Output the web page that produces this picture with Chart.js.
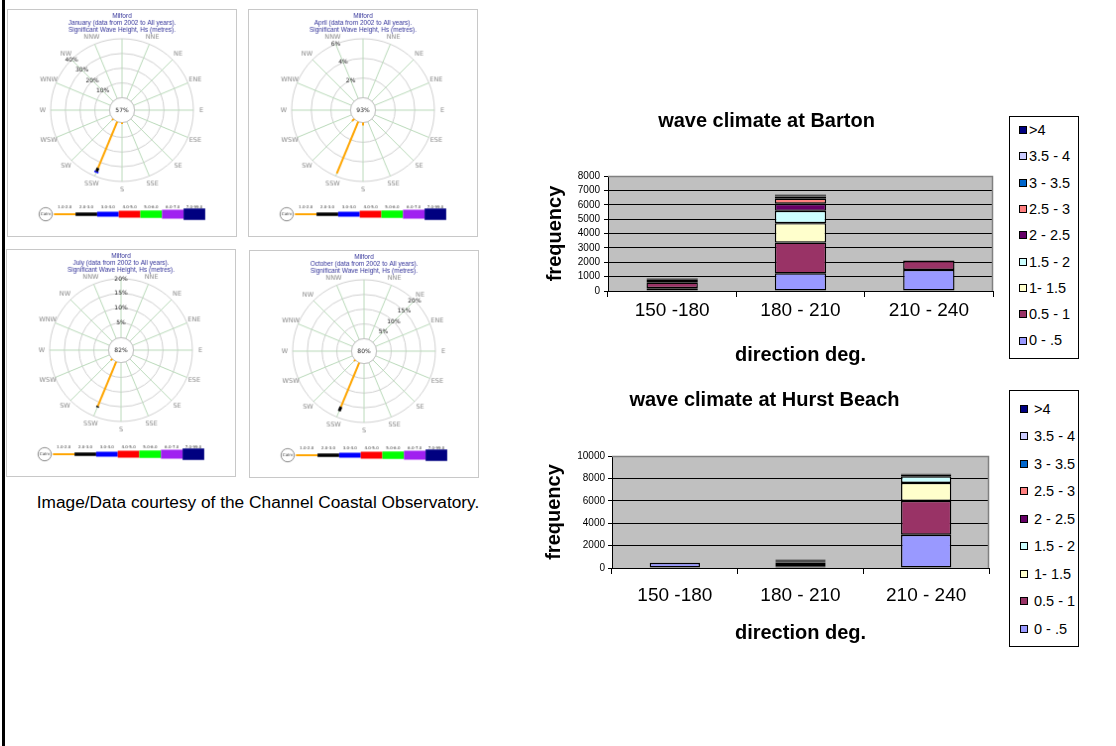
<!DOCTYPE html>
<html><head><meta charset="utf-8">
<script src="https://cdn.jsdelivr.net/npm/chart.js@4.4.1/dist/chart.umd.min.js"></script>
<style>
html,body{margin:0;padding:0;background:#fff;width:1116px;height:746px;overflow:hidden;position:relative;font-family:"Liberation Sans",Arial,sans-serif;}
canvas{position:absolute;}
.rose{border:1px solid #c8c8c8;}
#leftline{position:absolute;left:2px;top:0;width:3px;height:746px;background:#000;}
#caption{position:absolute;left:0;width:516px;top:491px;line-height:22px;text-align:center;font-size:17.3px;color:#000;}
.legend{position:absolute;border:1px solid #000;background:#fff;box-sizing:border-box;color:#000;}
.legend .it{position:absolute;white-space:nowrap;height:20px;line-height:20px;font-size:14.5px;}
.legend .sw{display:inline-block;width:6px;height:6px;border:1px solid #000;vertical-align:middle;margin-top:-2px;}
</style></head><body>
<div id="leftline"></div>
<canvas id="rose1" class="rose" width="230" height="228" style="left:7px;top:9px"></canvas>
<canvas id="rose2" class="rose" width="230" height="228" style="left:248px;top:9px"></canvas>
<canvas id="rose3" class="rose" width="230" height="228" style="left:6px;top:249px"></canvas>
<canvas id="rose4" class="rose" width="230" height="228" style="left:249px;top:250px"></canvas>
<div id="caption">Image/Data courtesy of the Channel Coastal Observatory.</div>
<canvas id="barton" width="460" height="270" style="left:540px;top:100px"></canvas>
<canvas id="hurst" width="460" height="267" style="left:540px;top:380px"></canvas>
<div id="legend1" class="legend" style="left:1009px;top:116px;width:70px;height:243px"></div>
<div id="legend2" class="legend" style="left:1009px;top:390px;width:70px;height:257px"></div>
<script>
// ---------- Bar chart data ----------
const directionCats = ['150 -180', '180 - 210', '210 - 240'];
const hsLabels = ['0 - .5', '0.5 - 1', '1- 1.5', '1.5 - 2', '2 - 2.5', '2.5 - 3', '3 - 3.5', '3.5 - 4', '>4'];
const hsBarColors = ['#9999FF', '#993366', '#FFFFCC', '#CCFFFF', '#660066', '#FF8080', '#0066CC', '#CCCCFF', '#000080'];

const barton00_05 = [200, 1230, 1465];
const barton05_10 = [380, 2140, 625];
const barton10_15 = [120, 1350, 40];
const barton15_20 = [80, 860, 0];
const barton20_25 = [60, 490, 0];
const barton25_30 = [30, 350, 0];
const barton30_35 = [20, 150, 0];
const barton35_40 = [10, 90, 0];
const barton40up  = [10, 60, 0];

const hurst00_05 = [450, 150, 2970];
const hurst05_10 = [20, 200, 3030];
const hurst10_15 = [0, 150, 1600];
const hurst15_20 = [0, 110, 590];
const hurst20_25 = [0, 80, 150];
const hurst25_30 = [0, 50, 60];
const hurst30_35 = [0, 30, 20];
const hurst35_40 = [0, 15, 10];
const hurst40up  = [0, 15, 10];

// ---------- Wave rose data (Milford, % of records) ----------
const roseDirs = ['N','NNE','NE','ENE','E','ESE','SE','SSE','S','SSW','SW','WSW','W','WNW','NW','NNW'];
const roseClasses = ['1.0-2.0','2.0-3.0','3.0-4.0','4.0-5.0','5.0-6.0','6.0-7.0','7.0-99.0'];
const roseColors = ['#ffa500','#000000','#0000ff','#ff0000','#00ff00','#a020f0','#000080'];
const roseLineW = [2, 3.5, 5, 7, 7.5, 9, 11.5];

const roseMonths = ['January', 'April', 'July', 'October'];
const roseCalm = [57, 93, 82, 80];
const roseRingsJan = [10, 20, 30, 40];
const roseRingsApr = [2, 4, 6];
const roseRingsJul = [5, 10, 15, 20];
const roseRingsOct = [5, 10, 15, 20];
const roseRingLabelDir = ['NW', 'NNW', 'N', 'NE'];

const janHs1 = [0,0,0,0,0,0,0,0,1,34,1,0,0,0,0,0];
const janHs2 = [0,0,0,0,0,0,0,0,0,2.5,0,0,0,0,0,0];
const janHs3 = [0,0,0,0,0,0,0,0,0,1,0,0,0,0,0,0];
const aprHs1 = [0,0,0,0,0,0,0,0,0.3,5.7,0.3,0,0,0,0,0];
const julHs1 = [0,0,0,0,0,0,0,0,0,16.3,0.6,0,0,0,0,0];
const julHs2 = [0,0,0,0,0,0,0,0,0,0.5,0,0,0,0,0,0];
const octHs1 = [0,0,0,0,0,0,0,0,0,16.2,0.5,0,0,0,0,0];
const octHs2 = [0,0,0,0,0,0,0,0,0,1.6,0,0,0,0,0,0];

Chart.defaults.font.family = '"Liberation Sans", Arial, sans-serif';
Chart.defaults.color = '#000';

// ---------- Bar charts ----------
const plotBg = {
  id: 'plotBg',
  beforeDraw(chart) {
    const a = chart.chartArea, c = chart.ctx;
    c.save(); c.fillStyle = '#C0C0C0'; c.fillRect(a.left, a.top, a.width, a.height); c.restore();
  },
  beforeDatasetsDraw(chart) {
    const a = chart.chartArea, c = chart.ctx;
    c.save(); c.strokeStyle = '#808080'; c.lineWidth = 1.5;
    c.beginPath(); c.moveTo(a.left, a.top + 0.5); c.lineTo(a.right - 0.5, a.top + 0.5); c.lineTo(a.right - 0.5, a.bottom); c.stroke();
    c.restore();
  }
};

function makeBar(id, title, series, yMax, yStep, cfg) {
  return new Chart(document.getElementById(id), {
    type: 'bar',
    data: {
      labels: directionCats,
      datasets: series.map((d, i) => ({
        label: hsLabels[i], data: d, backgroundColor: hsBarColors[i],
        borderColor: '#000', borderWidth: 1.4, borderSkipped: false,
        barPercentage: 0.4, categoryPercentage: 1
      }))
    },
    options: {
      responsive: false, animation: false, events: [],
      layout: { padding: { left: 0, right: cfg.padRight, top: 0, bottom: 0 } },
      plugins: {
        legend: { display: false }, tooltip: { enabled: false },
        title: { display: true, text: title, color: '#000',
          font: { size: 20, weight: 'bold', lineHeight: 1.2 },
          padding: { top: cfg.titleTop, bottom: cfg.titleBottom } }
      },
      scales: {
        x: {
          stacked: true,
          grid: { offset: true, drawOnChartArea: false, tickLength: 6, color: '#000' },
          border: { color: '#000', width: 1 },
          ticks: { font: { size: 19 }, color: '#000', padding: cfg.xTickPad, maxRotation: 0 },
          title: { display: true, text: 'direction deg.', color: '#000', font: { size: 20, weight: 'bold', lineHeight: 1.2 }, padding: { top: 0, bottom: cfg.xTitlePad } },
          afterFit(s) { s.height = 79; }
        },
        y: {
          stacked: true, min: 0, max: yMax,
          ticks: { stepSize: yStep, autoSkip: false, font: { size: 10 }, color: '#000', padding: cfg.yTickPad,
                   callback: (v) => String(v) },
          grid: { color: '#000', tickLength: 4 },
          border: { color: '#000', width: 1 },
          title: { display: true, text: 'frequency', color: '#000', font: { size: 20, weight: 'bold', lineHeight: 1.2 }, padding: { top: cfg.yTitlePad, bottom: 0 } },
          afterFit(s) { s.width = cfg.yWidth; }
        }
      }
    },
    plugins: [plotBg]
  });
}

makeBar('barton', 'wave climate at Barton',
  [barton00_05, barton05_10, barton10_15, barton15_20, barton20_25, barton25_30, barton30_35, barton35_40, barton40up],
  8000, 1000,
  { padRight: 7, yWidth: 68, titleTop: 9, titleBottom: 43, xTickPad: 2.5, xTitlePad: 2.2, yTickPad: 4, yTitlePad: 3.5 });

makeBar('hurst', 'wave climate at Hurst Beach',
  [hurst00_05, hurst05_10, hurst10_15, hurst15_20, hurst20_25, hurst25_30, hurst30_35, hurst35_40, hurst40up],
  10000, 2000,
  { padRight: 11, yWidth: 72, titleTop: 8, titleBottom: 44, xTickPad: 10, xTitlePad: 2, yTickPad: 3, yTitlePad: 2.5 });

// ---------- Legends (built from the same arrays) ----------
function buildLegend(id, firstCenter, spacing, swLeft, textGap) {
  const el = document.getElementById(id);
  const order = hsLabels.map((l, i) => i).reverse();
  order.forEach((idx, k) => {
    const it = document.createElement('div');
    it.className = 'it';
    it.style.left = swLeft + 'px';
    it.style.top = (firstCenter + k * spacing - 10) + 'px';
    const sw = document.createElement('span');
    sw.className = 'sw'; sw.style.background = hsBarColors[idx]; sw.style.marginRight = textGap + 'px';
    it.appendChild(sw);
    it.appendChild(document.createTextNode(hsLabels[idx]));
    el.appendChild(it);
  });
}
buildLegend('legend1', 13, 26.3, 9, 2);
buildLegend('legend2', 17.5, 27.5, 10, 6);

// ---------- Wave roses ----------
function roseDeco(calm, rings, ringDirIdx) {
  return {
    id: 'roseDeco',
    beforeDatasetsDraw(chart) {
      const s = chart.scales.r, c = chart.ctx;
      const r0 = s.getDistanceFromCenterForValue(0);
      c.save();
      c.fillStyle = '#fff'; c.strokeStyle = '#c0c0c0'; c.lineWidth = 1;
      c.beginPath(); c.arc(s.xCenter, s.yCenter, r0, 0, Math.PI * 2); c.fill(); c.stroke();
      c.font = '6px "DejaVu Sans"'; c.textAlign = 'center'; c.textBaseline = 'middle';
      c.fillStyle = '#222';
      c.fillText(calm + '%', s.xCenter, s.yCenter);
      rings.forEach(v => { const p = s.getPointPositionForValue(ringDirIdx, v); c.fillText(v + '%', p.x, p.y); });
      c.fillStyle = '#8a8a8a';
      c.font = '6.5px "DejaVu Sans"';
      roseDirs.forEach((d, i) => {
        if (i === 0) return;
        const p = s.getPointPosition(i, s.drawingArea + 8);
        c.fillText(d, p.x, p.y);
      });
      c.restore();
    },
    afterDraw(chart) {
      const c = chart.ctx;
      const x0 = 46.3, w = 21.8, y = 206;
      c.save();
      c.strokeStyle = '#888'; c.lineWidth = 1; c.fillStyle = '#fff';
      c.beginPath(); c.arc(38, y, 6.7, 0, Math.PI * 2); c.fill(); c.stroke();
      c.font = '4px "DejaVu Sans"'; c.textAlign = 'center'; c.textBaseline = 'middle'; c.fillStyle = '#333';
      c.fillText('Calm', 38, y);
      roseClasses.forEach((lab, k) => {
        c.strokeStyle = roseColors[k]; c.lineWidth = roseLineW[k];
        c.beginPath(); c.moveTo(x0 + k * w, y); c.lineTo(x0 + (k + 1) * w, y); c.stroke();
        c.fillStyle = '#333'; c.fillText(lab, x0 + (k + 0.5) * w, y - 7.5);
      });
      c.restore();
    }
  };
}

function makeRose(id, month, calm, rings, ringDir, classes) {
  const n = roseDirs.length;
  const cum = new Array(n).fill(0);
  const datasets = [];
  classes.forEach((vals, k) => {
    const lo = cum.slice();
    vals.forEach((v, i) => { cum[i] += v; });
    const hi = cum.slice();
    datasets.push({
      label: roseClasses[k],
      data: vals.map((v, i) => v > 0 ? (lo[i] + hi[i]) / 2 : null),
      lo: lo, hi: hi,
      showLine: false, borderWidth: 0, fill: false, backgroundColor: 'rgba(0,0,0,0)',
      pointStyle: 'line', pointBorderColor: roseColors[k], pointBackgroundColor: roseColors[k],
      pointBorderWidth: roseLineW[k] > 3 ? roseLineW[k] - 0.5 : roseLineW[k],
      pointRadius: (ctx) => {
        const s = ctx.chart.scales.r, d = ctx.dataset, i = ctx.dataIndex;
        return (s.getDistanceFromCenterForValue(d.hi[i]) - s.getDistanceFromCenterForValue(d.lo[i])) / 2;
      },
      pointRotation: (ctx) => ctx.dataIndex * 360 / n - 90
    });
  });
  const ringMax = rings[rings.length - 1];
  const f = 0.175;
  const rMin = -ringMax * f / (1 - f);
  return new Chart(document.getElementById(id), {
    type: 'radar',
    data: { labels: roseDirs, datasets: datasets },
    options: {
      responsive: false, animation: false, events: [],
      layout: { padding: { left: 42, right: 42, top: 0, bottom: 54 } },
      plugins: {
        legend: { display: false }, tooltip: { enabled: false },
        title: { display: true, color: '#333399',
          text: ['Milford', month + ' (data from 2002 to All years).', 'Significant Wave Height, Hs (metres).'],
          font: { size: 6.5, lineHeight: 1.08, weight: 'normal' }, padding: { top: 2.5, bottom: 4.5 } }
      },
      scales: {
        r: {
          min: rMin, max: ringMax,
          ticks: { display: false },
          afterBuildTicks(s) { s.ticks = [0].concat(rings).map(v => ({ value: v })); },
          grid: { color: '#cfcfcf', circular: true, lineWidth: 1 },
          angleLines: { color: '#b9d9b9', lineWidth: 1 },
          pointLabels: { display: false }
        }
      }
    },
    plugins: [roseDeco(calm, rings, roseDirs.indexOf(ringDir))]
  });
}

makeRose('rose1', roseMonths[0], roseCalm[0], roseRingsJan, roseRingLabelDir[0], [janHs1, janHs2, janHs3]);
makeRose('rose2', roseMonths[1], roseCalm[1], roseRingsApr, roseRingLabelDir[1], [aprHs1]);
makeRose('rose3', roseMonths[2], roseCalm[2], roseRingsJul, roseRingLabelDir[2], [julHs1, julHs2]);
makeRose('rose4', roseMonths[3], roseCalm[3], roseRingsOct, roseRingLabelDir[3], [octHs1, octHs2]);
</script>
</body></html>
